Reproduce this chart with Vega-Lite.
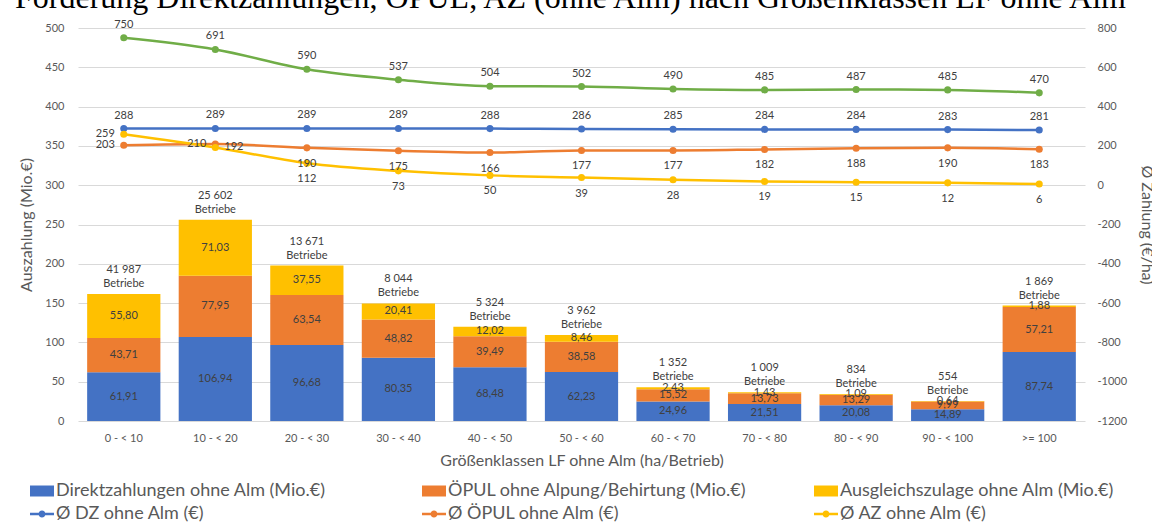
{
  "$schema": "https://vega.github.io/schema/vega-lite/v6.json",
  "width": 1007,
  "height": 393,
  "autosize": {"type": "none"},
  "padding": {"left": 78, "top": 28, "right": 67, "bottom": 106},
  "title": {
    "text": "Förderung Direktzahlungen, ÖPUL, AZ (ohne Alm) nach Größenklassen LF ohne Alm",
    "font": "Liberation Serif",
    "fontSize": 32,
    "fontWeight": "normal",
    "color": "#000000",
    "anchor": "start",
    "frame": "group",
    "dx": -63,
    "dy": -2,
    "offset": 2
  },
  "config": {
    "locale": {"number": {"decimal": ",", "thousands": " ", "grouping": [3], "currency": ["", " €"], "minus": "-"}},
    "font": "Lato",
    "view": {"stroke": null},
    "axis": {
      "labelColor": "#595959",
      "titleColor": "#595959",
      "labelFont": "Lato",
      "titleFont": "Lato",
      "titleFontWeight": "normal",
      "labelFontSize": 11,
      "titleFontSize": 16,
      "gridColor": "#D9D9D9",
      "domain": false,
      "ticks": false
    }
  },
  "datasets": {
    "bars": [
      {"class": "0 - < 10", "series": "Direktzahlungen ohne Alm (Mio.€)", "value": 61.91},
      {"class": "0 - < 10", "series": "ÖPUL ohne Alpung/Behirtung (Mio.€)", "value": 43.71},
      {"class": "0 - < 10", "series": "Ausgleichszulage ohne Alm (Mio.€)", "value": 55.80},
      {"class": "10 - < 20", "series": "Direktzahlungen ohne Alm (Mio.€)", "value": 106.94},
      {"class": "10 - < 20", "series": "ÖPUL ohne Alpung/Behirtung (Mio.€)", "value": 77.95},
      {"class": "10 - < 20", "series": "Ausgleichszulage ohne Alm (Mio.€)", "value": 71.03},
      {"class": "20 - < 30", "series": "Direktzahlungen ohne Alm (Mio.€)", "value": 96.68},
      {"class": "20 - < 30", "series": "ÖPUL ohne Alpung/Behirtung (Mio.€)", "value": 63.54},
      {"class": "20 - < 30", "series": "Ausgleichszulage ohne Alm (Mio.€)", "value": 37.55},
      {"class": "30 - < 40", "series": "Direktzahlungen ohne Alm (Mio.€)", "value": 80.35},
      {"class": "30 - < 40", "series": "ÖPUL ohne Alpung/Behirtung (Mio.€)", "value": 48.82},
      {"class": "30 - < 40", "series": "Ausgleichszulage ohne Alm (Mio.€)", "value": 20.41},
      {"class": "40 - < 50", "series": "Direktzahlungen ohne Alm (Mio.€)", "value": 68.48},
      {"class": "40 - < 50", "series": "ÖPUL ohne Alpung/Behirtung (Mio.€)", "value": 39.49},
      {"class": "40 - < 50", "series": "Ausgleichszulage ohne Alm (Mio.€)", "value": 12.02},
      {"class": "50 - < 60", "series": "Direktzahlungen ohne Alm (Mio.€)", "value": 62.23},
      {"class": "50 - < 60", "series": "ÖPUL ohne Alpung/Behirtung (Mio.€)", "value": 38.58},
      {"class": "50 - < 60", "series": "Ausgleichszulage ohne Alm (Mio.€)", "value": 8.46},
      {"class": "60 - < 70", "series": "Direktzahlungen ohne Alm (Mio.€)", "value": 24.96},
      {"class": "60 - < 70", "series": "ÖPUL ohne Alpung/Behirtung (Mio.€)", "value": 15.52},
      {"class": "60 - < 70", "series": "Ausgleichszulage ohne Alm (Mio.€)", "value": 2.43},
      {"class": "70 - < 80", "series": "Direktzahlungen ohne Alm (Mio.€)", "value": 21.51},
      {"class": "70 - < 80", "series": "ÖPUL ohne Alpung/Behirtung (Mio.€)", "value": 13.73},
      {"class": "70 - < 80", "series": "Ausgleichszulage ohne Alm (Mio.€)", "value": 1.43},
      {"class": "80 - < 90", "series": "Direktzahlungen ohne Alm (Mio.€)", "value": 20.08},
      {"class": "80 - < 90", "series": "ÖPUL ohne Alpung/Behirtung (Mio.€)", "value": 13.29},
      {"class": "80 - < 90", "series": "Ausgleichszulage ohne Alm (Mio.€)", "value": 1.09},
      {"class": "90 - < 100", "series": "Direktzahlungen ohne Alm (Mio.€)", "value": 14.89},
      {"class": "90 - < 100", "series": "ÖPUL ohne Alpung/Behirtung (Mio.€)", "value": 9.99},
      {"class": "90 - < 100", "series": "Ausgleichszulage ohne Alm (Mio.€)", "value": 0.64},
      {"class": ">= 100", "series": "Direktzahlungen ohne Alm (Mio.€)", "value": 87.74},
      {"class": ">= 100", "series": "ÖPUL ohne Alpung/Behirtung (Mio.€)", "value": 57.21},
      {"class": ">= 100", "series": "Ausgleichszulage ohne Alm (Mio.€)", "value": 1.88}
    ],
    "betriebe": [
      {"class": "0 - < 10", "n": 41987},
      {"class": "10 - < 20", "n": 25602},
      {"class": "20 - < 30", "n": 13671},
      {"class": "30 - < 40", "n": 8044},
      {"class": "40 - < 50", "n": 5324},
      {"class": "50 - < 60", "n": 3962},
      {"class": "60 - < 70", "n": 1352},
      {"class": "70 - < 80", "n": 1009},
      {"class": "80 - < 90", "n": 834},
      {"class": "90 - < 100", "n": 554},
      {"class": ">= 100", "n": 1869}
    ],
    "lines": [
      {"class": "0 - < 10", "series": "Ø DZ ohne Alm (€)", "value": 288},
      {"class": "10 - < 20", "series": "Ø DZ ohne Alm (€)", "value": 289},
      {"class": "20 - < 30", "series": "Ø DZ ohne Alm (€)", "value": 289},
      {"class": "30 - < 40", "series": "Ø DZ ohne Alm (€)", "value": 289},
      {"class": "40 - < 50", "series": "Ø DZ ohne Alm (€)", "value": 288},
      {"class": "50 - < 60", "series": "Ø DZ ohne Alm (€)", "value": 286},
      {"class": "60 - < 70", "series": "Ø DZ ohne Alm (€)", "value": 285},
      {"class": "70 - < 80", "series": "Ø DZ ohne Alm (€)", "value": 284},
      {"class": "80 - < 90", "series": "Ø DZ ohne Alm (€)", "value": 284},
      {"class": "90 - < 100", "series": "Ø DZ ohne Alm (€)", "value": 283},
      {"class": ">= 100", "series": "Ø DZ ohne Alm (€)", "value": 281},
      {"class": "0 - < 10", "series": "Ø ÖPUL ohne Alm (€)", "value": 203},
      {"class": "10 - < 20", "series": "Ø ÖPUL ohne Alm (€)", "value": 210},
      {"class": "20 - < 30", "series": "Ø ÖPUL ohne Alm (€)", "value": 190},
      {"class": "30 - < 40", "series": "Ø ÖPUL ohne Alm (€)", "value": 175},
      {"class": "40 - < 50", "series": "Ø ÖPUL ohne Alm (€)", "value": 166},
      {"class": "50 - < 60", "series": "Ø ÖPUL ohne Alm (€)", "value": 177},
      {"class": "60 - < 70", "series": "Ø ÖPUL ohne Alm (€)", "value": 177},
      {"class": "70 - < 80", "series": "Ø ÖPUL ohne Alm (€)", "value": 182},
      {"class": "80 - < 90", "series": "Ø ÖPUL ohne Alm (€)", "value": 188},
      {"class": "90 - < 100", "series": "Ø ÖPUL ohne Alm (€)", "value": 190},
      {"class": ">= 100", "series": "Ø ÖPUL ohne Alm (€)", "value": 183},
      {"class": "0 - < 10", "series": "Ø AZ ohne Alm (€)", "value": 259},
      {"class": "10 - < 20", "series": "Ø AZ ohne Alm (€)", "value": 192},
      {"class": "20 - < 30", "series": "Ø AZ ohne Alm (€)", "value": 112},
      {"class": "30 - < 40", "series": "Ø AZ ohne Alm (€)", "value": 73},
      {"class": "40 - < 50", "series": "Ø AZ ohne Alm (€)", "value": 50},
      {"class": "50 - < 60", "series": "Ø AZ ohne Alm (€)", "value": 39},
      {"class": "60 - < 70", "series": "Ø AZ ohne Alm (€)", "value": 28},
      {"class": "70 - < 80", "series": "Ø AZ ohne Alm (€)", "value": 19},
      {"class": "80 - < 90", "series": "Ø AZ ohne Alm (€)", "value": 15},
      {"class": "90 - < 100", "series": "Ø AZ ohne Alm (€)", "value": 12},
      {"class": ">= 100", "series": "Ø AZ ohne Alm (€)", "value": 6},
      {"class": "0 - < 10", "series": "Ø gesamt", "value": 750},
      {"class": "10 - < 20", "series": "Ø gesamt", "value": 691},
      {"class": "20 - < 30", "series": "Ø gesamt", "value": 590},
      {"class": "30 - < 40", "series": "Ø gesamt", "value": 537},
      {"class": "40 - < 50", "series": "Ø gesamt", "value": 504},
      {"class": "50 - < 60", "series": "Ø gesamt", "value": 502},
      {"class": "60 - < 70", "series": "Ø gesamt", "value": 490},
      {"class": "70 - < 80", "series": "Ø gesamt", "value": 485},
      {"class": "80 - < 90", "series": "Ø gesamt", "value": 487},
      {"class": "90 - < 100", "series": "Ø gesamt", "value": 485},
      {"class": ">= 100", "series": "Ø gesamt", "value": 470}
    ]
  },
  "encoding": {
    "x": {
      "field": "class",
      "type": "nominal",
      "sort": ["0 - < 10", "10 - < 20", "20 - < 30", "30 - < 40", "40 - < 50", "50 - < 60", "60 - < 70", "70 - < 80", "80 - < 90", "90 - < 100", ">= 100"],
      "scale": {"paddingInner": 0.2, "paddingOuter": 0.1},
      "axis": {"title": "Größenklassen LF ohne Alm (ha/Betrieb)", "labelAngle": 0, "labelPadding": 11, "titlePadding": 9}
    }
  },
  "layer": [
    {
      "data": {"name": "bars"},
      "transform": [
        {"calculate": "indexof(['Direktzahlungen ohne Alm (Mio.€)', 'ÖPUL ohne Alpung/Behirtung (Mio.€)', 'Ausgleichszulage ohne Alm (Mio.€)'], datum.series)", "as": "ord"},
        {"stack": "value", "groupby": ["class"], "sort": [{"field": "ord", "order": "ascending"}], "as": ["y0", "y1"]},
        {"calculate": "(datum.y0 + datum.y1) / 2", "as": "ymid"}
      ],
      "layer": [
        {
          "mark": {"type": "bar"},
          "encoding": {
            "y": {
              "field": "y0",
              "type": "quantitative",
              "scale": {"domain": [0, 500]},
              "axis": {"title": "Auszahlung (Mio.€)", "values": [0, 50, 100, 150, 200, 250, 300, 350, 400, 450, 500], "format": "d", "grid": true, "labelPadding": 14, "titlePadding": 10}
            },
            "y2": {"field": "y1"},
            "color": {
              "field": "series",
              "type": "nominal",
              "scale": {
                "domain": ["Direktzahlungen ohne Alm (Mio.€)", "ÖPUL ohne Alpung/Behirtung (Mio.€)", "Ausgleichszulage ohne Alm (Mio.€)", "Ø DZ ohne Alm (€)", "Ø ÖPUL ohne Alm (€)", "Ø AZ ohne Alm (€)"],
                "range": ["#4472C4", "#ED7D31", "#FFC000", "#4472C4", "#ED7D31", "#FFC000"]
              },
              "legend": {
                "title": null,
                "orient": "none",
                "direction": "horizontal",
                "legendX": -46,
                "legendY": 453,
                "columns": 3,
                "gridAlign": "all",
                "columnPadding": 67,
                "rowPadding": 4,
                "symbolSize": 400,
                "labelFontSize": 18,
                "labelFont": "Lato",
                "labelColor": "#595959",
                "labelOffset": 4,
                "labelLimit": 500,
                "encode": {
                  "symbols": {
                    "update": {
                      "shape": {"signal": "indexof(['Ø DZ ohne Alm (€)', 'Ø ÖPUL ohne Alm (€)', 'Ø AZ ohne Alm (€)'], datum.value) >= 0 ? 'M-1.2,-0.13H1.2V0.13H-1.2Z M-0.35,0A0.35,0.35 0 1,1 0.35,0A0.35,0.35 0 1,1 -0.35,0Z' : 'M-1.2,-0.55H1.2V0.55H-1.2Z'"},
                      "fill": {"signal": "scale('color', datum.value)"},
                      "stroke": {"value": null},
                      "strokeWidth": {"value": 0},
                      "opacity": {"value": 1},
                      "fillOpacity": {"value": 1}
                    }
                  }
                }
              }
            }
          }
        },
        {
          "mark": {"type": "text", "fontSize": 11, "color": "#404040", "font": "Lato"},
          "encoding": {
            "y": {"field": "ymid", "type": "quantitative", "axis": {"title": "Auszahlung (Mio.€)", "values": [0, 50, 100, 150, 200, 250, 300, 350, 400, 450, 500], "format": "d", "grid": true, "labelPadding": 14, "titlePadding": 10}},
            "text": {"field": "value", "type": "quantitative", "format": ".2f"}
          }
        },
        {
          "transform": [
            {"aggregate": [{"op": "max", "field": "y1", "as": "top"}], "groupby": ["class"]},
            {"lookup": "class", "from": {"data": {"name": "betriebe"}, "key": "class", "fields": ["n"]}}
          ],
          "layer": [
            {
              "mark": {"type": "text", "fontSize": 11, "color": "#404040", "baseline": "bottom", "dy": -19, "font": "Lato"},
              "encoding": {
                "y": {"field": "top", "type": "quantitative", "axis": {"title": "Auszahlung (Mio.€)", "values": [0, 50, 100, 150, 200, 250, 300, 350, 400, 450, 500], "format": "d", "grid": true, "labelPadding": 14, "titlePadding": 10}},
                "text": {"field": "n", "type": "quantitative", "format": ",d"}
              }
            },
            {
              "mark": {"type": "text", "fontSize": 11, "color": "#404040", "baseline": "bottom", "dy": -5, "font": "Lato"},
              "encoding": {
                "y": {"field": "top", "type": "quantitative", "axis": {"title": "Auszahlung (Mio.€)", "values": [0, 50, 100, 150, 200, 250, 300, 350, 400, 450, 500], "format": "d", "grid": true, "labelPadding": 14, "titlePadding": 10}},
                "text": {"value": "Betriebe"}
              }
            }
          ]
        }
      ]
    },
    {
      "data": {"name": "lines"},
      "encoding": {
        "y": {
          "field": "value",
          "type": "quantitative",
          "scale": {"domain": [-1200, 800]},
          "axis": {"orient": "right", "title": "Ø Zahlung (€/ha)", "values": [-1200, -1000, -800, -600, -400, -200, 0, 200, 400, 600, 800], "format": "d", "grid": false, "labelPadding": 12, "titlePadding": 12}
        }
      },
      "layer": [
        {
          "transform": [{"filter": "datum.series != 'Ø gesamt'"}],
          "mark": {"type": "line", "strokeWidth": 2.5, "interpolate": "monotone", "point": {"filled": true, "size": 50}},
          "encoding": {
            "color": {"field": "series", "type": "nominal"}
          }
        },
        {
          "transform": [{"filter": "datum.series == 'Ø gesamt'"}],
          "mark": {"type": "line", "strokeWidth": 2.5, "interpolate": "monotone", "color": "#70AD47", "point": {"filled": true, "size": 50, "color": "#70AD47"}},
          "encoding": {}
        },
        {
          "transform": [{"filter": "datum.series == 'Ø gesamt' || datum.series == 'Ø DZ ohne Alm (€)'"}],
          "mark": {"type": "text", "fontSize": 11, "color": "#404040", "dy": -13, "font": "Lato"},
          "encoding": {"text": {"field": "value", "type": "quantitative", "format": "d"}}
        },
        {
          "transform": [{"filter": "(datum.series == 'Ø ÖPUL ohne Alm (€)' || datum.series == 'Ø AZ ohne Alm (€)') && datum.class != '0 - < 10' && datum.class != '10 - < 20'"}],
          "mark": {"type": "text", "fontSize": 11, "color": "#404040", "dy": 16, "font": "Lato"},
          "encoding": {"text": {"field": "value", "type": "quantitative", "format": "d"}}
        },
        {
          "transform": [{"filter": "(datum.class == '0 - < 10' && (datum.series == 'Ø ÖPUL ohne Alm (€)' || datum.series == 'Ø AZ ohne Alm (€)')) || (datum.class == '10 - < 20' && datum.series == 'Ø ÖPUL ohne Alm (€)')"}],
          "mark": {"type": "text", "fontSize": 11, "color": "#404040", "align": "right", "dx": -9, "font": "Lato"},
          "encoding": {"text": {"field": "value", "type": "quantitative", "format": "d"}}
        },
        {
          "transform": [{"filter": "datum.class == '10 - < 20' && datum.series == 'Ø AZ ohne Alm (€)'"}],
          "mark": {"type": "text", "fontSize": 11, "color": "#404040", "align": "left", "dx": 9, "font": "Lato"},
          "encoding": {"text": {"field": "value", "type": "quantitative", "format": "d"}}
        }
      ]
    }
  ],
  "resolve": {"scale": {"y": "independent"}}
}
